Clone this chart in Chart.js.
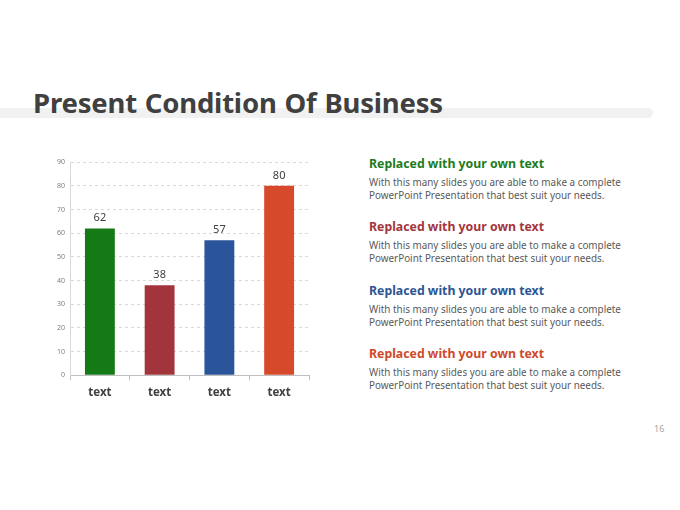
<!DOCTYPE html>
<html>
<head>
<meta charset="utf-8">
<script src="https://cdn.jsdelivr.net/npm/chart.js@4"></script>
<style>
  body { margin: 0; width: 680px; height: 510px; background: #fff; position: relative; overflow: hidden; font-family: "Noto Sans", sans-serif; }
  .band { position: absolute; left: -10px; top: 108px; width: 663px; height: 10px; background: #f1f1f1; border-radius: 5px; }
  h1 { position: absolute; left: 33px; top: 84px; margin: 0; font-size: 27.5px; font-weight: 700; color: #404040; word-spacing: 1px; letter-spacing: -0.2px; }
  .chartBox { position: absolute; left: 30px; top: 153px; width: 285px; height: 253px; }
  .note { position: absolute; left: 369px; width: 280px; }
  .note h3 { margin: 0; font-size: 12.3px; font-weight: 700; line-height: 16px; }
  .note p { margin: 4px 0 0; font-size: 9.9px; line-height: 12.5px; color: #595959; }
  .page { position: absolute; left: 654px; top: 422px; font-size: 9px; color: #a6a6a6; }
</style>
</head>
<body>
<div class="band"></div>
<h1>Present Condition Of Business</h1>
<div class="chartBox"><canvas id="businessChart"></canvas></div>
<div id="notes"></div>
<div class="page">16</div>
<script>
const categories = ["text", "text", "text", "text"];
const values = [62, 38, 57, 80];
const barColors = ["#147a16", "#a1353b", "#2a559a", "#d6492a"];
const yTicks = [0, 10, 20, 30, 40, 50, 60, 70, 80, 90];
const noteTitles = ["Replaced with your own text", "Replaced with your own text", "Replaced with your own text", "Replaced with your own text"];
const noteColors = ["#1e7b20", "#a3353b", "#2c5593", "#d04a2a"];
const noteBody = "With this many slides you are able to make a complete<br>PowerPoint Presentation that best suit your needs.";
const noteTops = [156, 219, 283, 346];

const notes = document.getElementById("notes");
noteTitles.forEach((t, i) => {
    const d = document.createElement("div");
    d.className = "note";
    d.style.top = noteTops[i] + "px";
    d.innerHTML = '<h3 style="color:' + noteColors[i] + '">' + t + '</h3><p>' + noteBody + '</p>';
    notes.appendChild(d);
});

const valueLabels = {
    id: "valueLabels",
    afterDatasetsDraw(chart) {
        const { ctx } = chart;
        const meta = chart.getDatasetMeta(0);
        ctx.save();
        ctx.font = "11px 'Noto Sans'";
        ctx.fillStyle = "#404040";
        ctx.textAlign = "center";
        ctx.textBaseline = "bottom";
        meta.data.forEach((bar, i) => {
            ctx.fillText(values[i], bar.x, bar.y - 5);
        });
        ctx.restore();
    }
};

const ctx = document.getElementById("businessChart");

new Chart(ctx, {
    type: "bar",
    data: {
        labels: categories,
        datasets: [{
            data: values,
            backgroundColor: barColors,
            categoryPercentage: 1,
            barPercentage: 0.5
        }]
    },
    options: {
        responsive: true,
        maintainAspectRatio: false,
        animation: false,
        layout: { padding: { top: 6, right: 6, left: 22 } },
        plugins: {
            legend: { display: false },
            tooltip: { enabled: false }
        },
        scales: {
            x: {
                grid: { drawOnChartArea: false, drawTicks: true, tickLength: 5, color: "#bfbfbf" },
                border: { color: "#bfbfbf" },
                ticks: { color: "#404040", font: { family: "Noto Sans", size: 11.5, weight: "bold" }, padding: 6 }
            },
            y: {
                min: 0,
                max: 90,
                afterBuildTicks: axis => { axis.ticks = yTicks.map(v => ({ value: v })); },
                grid: { color: "#d9d9d9", drawTicks: false },
                border: { color: "#d9d9d9", dash: [3, 3] },
                ticks: { color: "#7f7f7f", font: { family: "Noto Sans", size: 7 }, padding: 5 }
            }
        }
    },
    plugins: [valueLabels]
});
</script>
</body>
</html>
